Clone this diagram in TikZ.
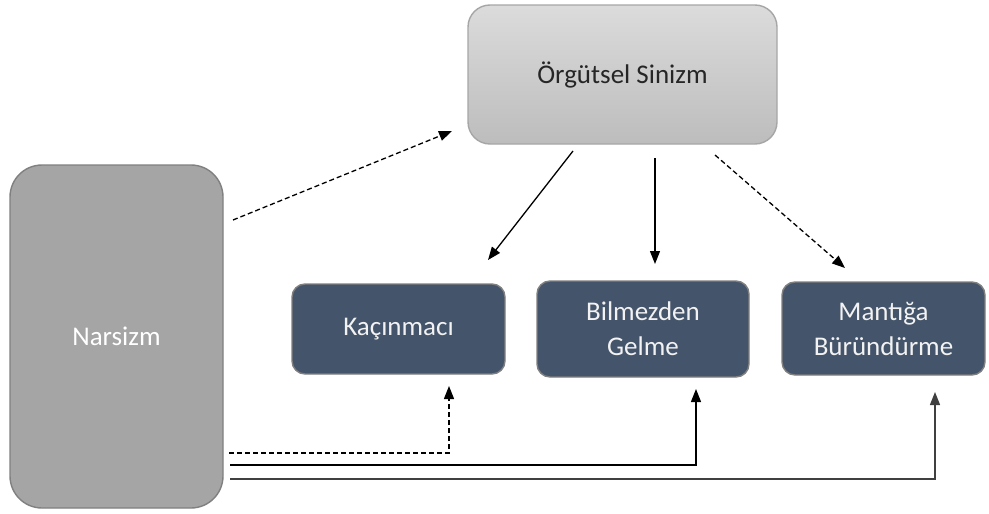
\documentclass[tikz,border=0pt]{standalone}
\usepackage{fontspec}
\setmainfont{Carlito}
\usetikzlibrary{arrows.meta,calc}
\definecolor{navy}{HTML}{44546A}
\definecolor{midgray}{HTML}{A5A5A5}
\tikzset{
  box/.style={rounded corners=#1, inner sep=0pt, outer sep=0pt, line width=1.4pt, align=center, font=\fontsize{27}{35}\selectfont},
  topbox/.style={box=22pt, draw=black!35, top color=black!14, bottom color=black!26, text=black!85},
  leftbox/.style={box=32pt, draw=black!50, fill=midgray, text=white},
  bluebox/.style={box=13pt, draw=black!50, fill=navy, text=white!95!black},
  conn/.style={line width=1.3pt, -{Triangle[length=13pt,width=10pt]}},
  dsh/.style={conn, dash pattern=on 5pt off 3pt},
}
\begin{document}
\begin{tikzpicture}[x=1pt,y=-1pt]
\useasboundingbox (0,0) rectangle (989,514);
\node[topbox, minimum width=309pt, minimum height=139pt] (org) at (622.5,74.5) {Örgütsel Sinizm};
\node[leftbox, minimum width=213pt, minimum height=343pt] (nar) at (116.5,336.5) {Narsizm};
\node[bluebox, minimum width=213pt, minimum height=90pt] (kac) at (398.5,329) {Kaçınmacı};
\node[bluebox, minimum width=212pt, minimum height=96pt] (bil) at (643,329) {Bilmezden\\Gelme};
\node[bluebox, minimum width=203pt, minimum height=93pt] (man) at (883.5,328.5) {Mantığa\\Büründürme};

% top connectors
\coordinate (a1) at (233,220);
\coordinate (a2) at (452,131);
\draw[dsh] (a1) -- (a2);
\coordinate (b1) at (573,151);
\coordinate (b2) at (488,260);
\draw[conn] (b1) -- (b2);
\coordinate (c1) at (655,158);
\coordinate (c2) at (655,264);
\draw[conn] (c1) -- (c2);
\coordinate (d1) at (715,155);
\coordinate (d2) at (845,268);
\draw[dsh] (d1) -- (d2);

% bottom connectors
\coordinate (e1) at (229,453);
\coordinate (e2) at (449,386);
\draw[dsh] (e1) -| (e2);
\coordinate (f1) at (230,465);
\coordinate (f2) at (696,389);
\draw[conn] (f1) -| (f2);
\coordinate (g1) at (230,479);
\coordinate (g2) at (935,392);
\draw[conn, draw=black!75] (g1) -| (g2);
\end{tikzpicture}
\end{document}
